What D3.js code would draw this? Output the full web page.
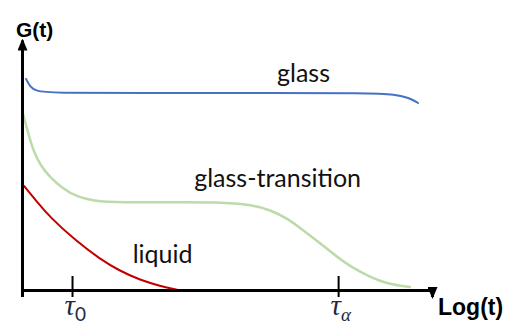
<!DOCTYPE html>
<html>
<head>
  <meta charset="utf-8">
  <script src="https://cdn.jsdelivr.net/npm/d3@7"></script>
  <style type="text/css">
    body {
      margin: 0;
      background: #fff;
    }
    .label {
      font-family: Lato, "Open Sans", sans-serif;
      font-size: 25px;
      fill: #111;
    }
    .title {
      font-family: "Liberation Sans", Arial, sans-serif;
      font-weight: bold;
      fill: #000;
    }
    .tau {
      font-family: "Liberation Serif", "DejaVu Serif", serif;
      font-style: italic;
      font-size: 29px;
      fill: #1f2a44;
    }
  </style>
</head>
<body>
  <script type="text/javascript">

  // x is log(t) in arbitrary units (0..10), y is G(t) normalised (0..1)
  const glassX = [0.10, 0.20, 0.34, 0.68, 3.1, 5.6, 8.5, 9.1, 9.46, 9.66];
  const glassY = [0.844, 0.812, 0.796, 0.788, 0.788, 0.788, 0.788, 0.782, 0.768, 0.748];

  const transX = [0.02, 0.15, 0.27, 0.44, 0.68, 0.98, 1.34, 1.78, 2.15, 3.37, 4.83, 5.63, 6.05, 6.46, 6.85, 7.27, 7.68, 8.07, 8.49, 8.90, 9.46];
  const transY = [0.708, 0.628, 0.560, 0.500, 0.452, 0.408, 0.372, 0.356, 0.352, 0.350, 0.352, 0.340, 0.320, 0.288, 0.240, 0.188, 0.132, 0.088, 0.052, 0.024, 0.012];

  const liquidX = [0.05, 0.37, 0.68, 1.29, 1.90, 2.39, 2.88, 3.37, 3.8];
  const liquidY = [0.416, 0.352, 0.292, 0.200, 0.124, 0.076, 0.040, 0.016, 0.0];

  const tickX = [1.22, 7.71];
  const tickSub = ['0', 'α'];

  const curves = [
    {name: 'glass', xs: glassX, ys: glassY, color: '#4472c4', w: 2, lx: 6.22, ly: 0.832},
    {name: 'glass-transition', xs: transX, ys: transY, color: '#bcdba8', w: 2.5, lx: 4.2, ly: 0.412},
    {name: 'liquid', xs: liquidX, ys: liquidY, color: '#c00000', w: 2, lx: 2.7, ly: 0.108}
  ];

  const width = 510, height = 325;

  const svg = d3.select('body').append('svg')
    .attr('width', width)
    .attr('height', height);

  const xscale = d3.scaleLinear().domain([0, 10]).range([22, 432]);
  const yscale = d3.scaleLinear().domain([0, 1]).range([290, 40]);

  // arrow head
  svg.append('defs').append('marker')
    .attr('id', 'arrow')
    .attr('markerUnits', 'userSpaceOnUse')
    .attr('viewBox', '0 0 12 10')
    .attr('refX', 10).attr('refY', 5)
    .attr('markerWidth', 12).attr('markerHeight', 10)
    .attr('orient', 'auto')
    .append('path')
    .attr('d', 'M0,0L12,5L0,10z')
    .attr('fill', '#000');

  const line = d3.line()
    .x((d) => xscale(d[0]))
    .y((d) => yscale(d[1]))
    .curve(d3.curveBasis);

  curves.forEach((c) => {
    svg.append('path')
      .datum(c.xs.map((x, i) => [x, c.ys[i]]))
      .attr('d', line)
      .attr('fill', 'none')
      .attr('stroke', c.color)
      .attr('stroke-width', c.w)
      .attr('stroke-linecap', 'round');
    svg.append('text')
      .attr('class', 'label')
      .attr('x', xscale(c.lx))
      .attr('y', yscale(c.ly))
      .text(c.name);
  });

  // y axis
  const g_y = svg.append('g')
    .attr('transform', `translate(${xscale(0)},0)`)
    .call(d3.axisLeft(yscale).tickValues([]).tickSizeOuter(0));
  g_y.select('.domain')
    .attr('stroke-width', 3)
    .attr('marker-end', 'url(#arrow)');

  // x axis
  const g_x = svg.append('g')
    .attr('transform', `translate(0,${yscale(0)})`)
    .call(d3.axisBottom(xscale).tickValues(tickX).tickSizeOuter(0).tickSize(7).tickFormat(''));
  g_x.select('.domain')
    .attr('stroke-width', 3)
    .attr('marker-end', 'url(#arrow)');
  g_x.selectAll('.tick line')
    .attr('y1', -14)
    .attr('stroke-width', 2);
  g_x.selectAll('.tick text').remove();

  const tl = g_x.selectAll('.tick').append('text')
    .attr('class', 'tau')
    .attr('text-anchor', 'start')
    .attr('x', -8)
    .attr('y', 25);
  tl.append('tspan').text('τ');
  tl.append('tspan')
    .attr('dy', 6)
    .style('font-size', '19px')
    .style('font-style', (d, i) => i ? 'italic' : 'normal')
    .style('font-family', (d, i) => i ? null : 'Lato, sans-serif')
    .text((d, i) => tickSub[i]);

  svg.append('text')
    .attr('class', 'title')
    .attr('x', 16).attr('y', 37)
    .style('font-size', '21px')
    .text('G(t)');

  svg.append('text')
    .attr('class', 'title')
    .attr('x', 438).attr('y', 315)
    .style('font-size', '23px')
    .text('Log(t)');

  </script>
</body>
</html>
